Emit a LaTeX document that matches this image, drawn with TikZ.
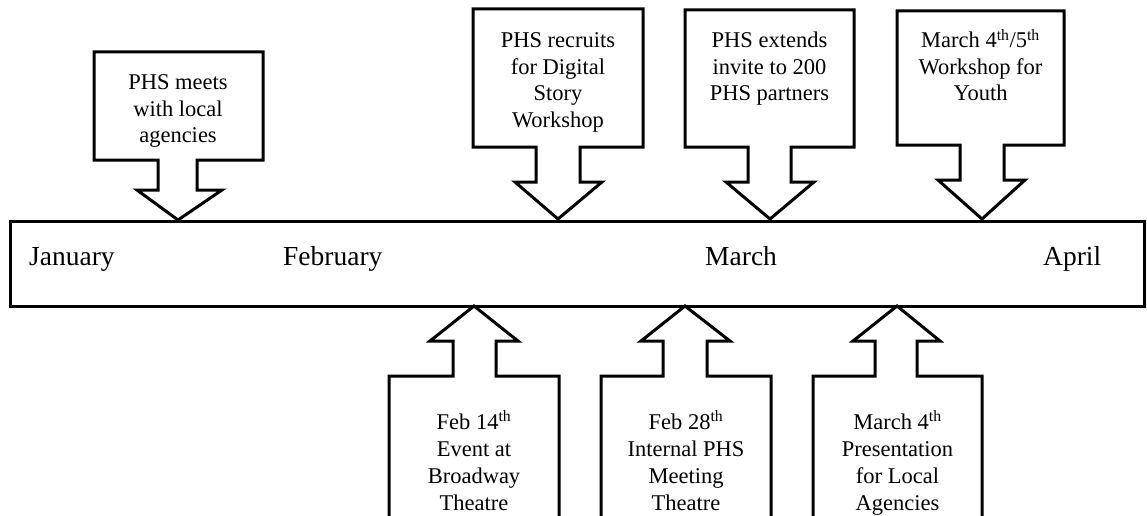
\documentclass[tikz,border=0pt]{standalone}
\usepackage{fontspec}
\setmainfont{Liberation Serif}
\begin{document}
\begin{tikzpicture}[x=1pt,y=-1pt,
  outline/.style={draw=black,line width=3pt,line join=miter,miter limit=10},
  ctext/.style={inner sep=0pt,anchor=base,font=\fontsize{22.5}{26.5}\selectfont},
  btext/.style={inner sep=0pt,anchor=base,font=\fontsize{22.5}{27}\selectfont},
  month/.style={inner sep=0pt,anchor=base west,font=\fontsize{27.5}{32}\selectfont}]
\useasboundingbox (0,0) rectangle (1147,516);
\clip (0,0) rectangle (1147,516);
\setlength{\tabcolsep}{0pt}
% timeline bar
\draw[outline] (10,221) rectangle (1144,306);
\node[month] (jan) at (29,265) {January};
\node[month] (feb) at (283,265) {February};
\node[month] (mar) at (705,265) {March};
\node[month] (apr) at (1043,265) {April};
% top callouts (pointing down)
\draw[outline] (94,52) -- (263,52) -- (263,160) -- (197,160) -- (197,190) -- (222,190) -- (178,220)
  -- (137,190) -- (158,190) -- (158,160) -- (94,160) -- cycle;
\node[ctext] (c1) at (178,90) {\begin{tabular}[t]{c}PHS meets\\with local\\agencies\end{tabular}};
\draw[outline] (473,9) -- (643,9) -- (643,147) -- (580,147) -- (580,182) -- (602,182) -- (558,219)
  -- (515,182) -- (536,182) -- (536,147) -- (473,147) -- cycle;
\node[ctext] (c2) at (558,48) {\begin{tabular}[t]{c}PHS recruits\\for Digital\\Story\\Workshop\end{tabular}};
\draw[outline] (685,10) -- (854,10) -- (854,147) -- (791,147) -- (791,182) -- (814,182) -- (770,219)
  -- (726,182) -- (748,182) -- (748,147) -- (685,147) -- cycle;
\node[ctext] (c3) at (769.5,48) {\begin{tabular}[t]{c}PHS extends\\invite to 200\\PHS partners\end{tabular}};
\draw[outline] (897,11) -- (1064,11) -- (1064,145) -- (1004,145) -- (1004,180) -- (1025,180) -- (982,219)
  -- (938,180) -- (960,180) -- (960,145) -- (897,145) -- cycle;
\node[ctext] (c4) at (980.5,48) {\begin{tabular}[t]{c}March 4\textsuperscript{th}/5\textsuperscript{th}\\Workshop for\\Youth\end{tabular}};
% bottom callouts (pointing up)
\draw[outline] (389,530) -- (389,376) -- (453,376) -- (453,341) -- (430,341) -- (474,306)
  -- (518,341) -- (496,341) -- (496,376) -- (559,376) -- (559,530);
\node[btext] (c5) at (474,429) {\begin{tabular}[t]{c}Feb 14\textsuperscript{th}\\Event at\\Broadway\\Theatre\end{tabular}};
\draw[outline] (601,530) -- (601,376) -- (663,376) -- (663,341) -- (641,341) -- (685,306)
  -- (730,341) -- (707,341) -- (707,376) -- (771,376) -- (771,530);
\node[btext] (c6) at (686,429) {\begin{tabular}[t]{c}Feb 28\textsuperscript{th}\\Internal PHS\\Meeting\\Theatre\end{tabular}};
\draw[outline] (813,530) -- (813,376) -- (875,376) -- (875,341) -- (853,341) -- (897,306)
  -- (940,341) -- (917,341) -- (917,376) -- (982,376) -- (982,530);
\node[btext] (c7) at (897.5,429) {\begin{tabular}[t]{c}March 4\textsuperscript{th}\\Presentation\\for Local\\Agencies\end{tabular}};
\end{tikzpicture}
\end{document}
